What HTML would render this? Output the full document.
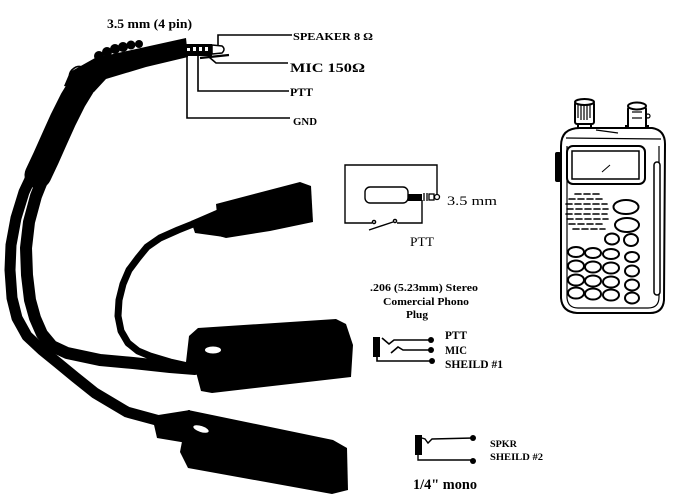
<!DOCTYPE html>
<html>
<head>
<meta charset="utf-8">
<style>
html,body{margin:0;padding:0;background:#fff;}
svg{display:block;}
text{font-family:"Liberation Serif","DejaVu Serif",serif;font-weight:bold;fill:#000;}
</style>
</head>
<body>
<svg width="678" height="500" viewBox="0 0 678 500" xmlns="http://www.w3.org/2000/svg">
<rect width="678" height="500" fill="#fff"/>

<!-- ===== Cables ===== -->
<g fill="none" stroke="#000" stroke-linecap="round" stroke-linejoin="round">
  <!-- upper neck (combined) -->
  <polyline points="84,82 73,100 63,120 54,140 46,158 38,175" stroke-width="27"/>
  <!-- outer cable to lower plug -->
  <polyline points="40,160 32,175 24,192 16,218 11,245 10,270 12,298 17,318 27,336 42,350 58,363 75,377 95,393 127,412 160,421" stroke-width="11"/>
  <!-- inner cable to middle plug -->
  <polyline points="52,160 44,176 36,196 29,222 26,248 27,275 30,300 35,318 42,334 52,346 67,353 100,360 133,363 170,367 195,369" stroke-width="12"/>
  <!-- cable from top jack -->
  <polyline points="198,222 178,230 160,238 147,247 138,258 129,270 123,284 119,300 118,316 121,331 128,343 138,351 150,356 170,362 188,366" stroke-width="7"/>
</g>

<!-- ===== Main 3.5mm plug ===== -->
<path d="M64,86 L70,72 L95,58 L186,38 L188,57 L146,67 L106,79 L94,92 Z" fill="#000"/>
<circle cx="99" cy="56" r="5" fill="#000"/>
<circle cx="107" cy="52" r="5" fill="#000"/>
<circle cx="115" cy="49" r="5" fill="#000"/>
<circle cx="123" cy="47" r="5" fill="#000"/>
<circle cx="131" cy="45" r="4.5" fill="#000"/>
<circle cx="139" cy="44" r="4" fill="#000"/>
<path d="M71,84 Q66,72 76,67 Q82,65 84,70" fill="none" stroke="#000" stroke-width="1.6"/>
<!-- pin -->
<rect x="184" y="44" width="28" height="12" fill="#000"/>
<rect x="187" y="48" width="3" height="3" fill="#fff"/>
<rect x="193" y="47" width="3" height="4" fill="#fff"/>
<rect x="199" y="47" width="3" height="4" fill="#fff"/>
<rect x="205" y="47" width="3" height="4" fill="#fff"/>
<path d="M212,45 L222,46 Q226,49 222,53 L212,54 Z" fill="#fff" stroke="#000" stroke-width="1.5"/>
<line x1="200" y1="58" x2="229" y2="55" stroke="#000" stroke-width="2.2"/>

<!-- pin leader lines -->
<g fill="none" stroke="#000" stroke-width="1.6">
  <polyline points="218,45 218,35 292,35"/>
  <polyline points="209,57 216,63 288,63"/>
  <polyline points="198,56 198,91 289,91"/>
  <polyline points="187,56 187,118 290,118"/>
</g>
<text x="107" y="28" font-size="12.5" textLength="85" lengthAdjust="spacingAndGlyphs">3.5 mm (4 pin)</text>
<text x="293" y="40" font-size="10" textLength="80" lengthAdjust="spacingAndGlyphs">SPEAKER  8 Ω</text>
<text x="290" y="72" font-size="13" textLength="75" lengthAdjust="spacingAndGlyphs">MIC 150Ω</text>
<text x="290" y="96" font-size="12" textLength="23" lengthAdjust="spacingAndGlyphs">PTT</text>
<text x="293" y="125" font-size="10.5" textLength="24" lengthAdjust="spacingAndGlyphs">GND</text>

<!-- ===== Top jack ===== -->
<path d="M191,221 L221,208 L224,237 L195,233 Z" fill="#000"/>
<path d="M216,204 L300,182 L311,186 L313,222 L270,231 L226,238 L219,236 Z" fill="#000"/>

<!-- ===== Middle plug ===== -->
<path d="M189,336 L198,328 L336,319 L346,324 L353,345 L351,377 L212,393 L201,391 L196,372 L186,362 Z" fill="#000"/>
<ellipse cx="213" cy="350" rx="8" ry="3.5" fill="#fff"/>

<!-- ===== Lower plug ===== -->
<path d="M152,416 L190,410 L187,443 L157,438 Z" fill="#000"/>
<path d="M188,410 L333,440 L347,448 L348,490 L332,494 L188,468 L180,452 Z" fill="#000"/>
<ellipse cx="201" cy="429" rx="8" ry="3" fill="#fff" transform="rotate(18 201 429)"/>

<!-- ===== Small PTT circuit ===== -->
<g fill="none" stroke="#000" stroke-width="1.4">
  <polyline points="437,195 437,165 345,165 345,223 372,223"/>
  <circle cx="374" cy="222" r="1.6"/>
  <line x1="369" y1="230" x2="393" y2="222"/>
  <circle cx="395" cy="221" r="1.6"/>
  <polyline points="397,223 422,223 422,200"/>
  <rect x="365" y="187" width="43" height="16" rx="5"/>
</g>
<rect x="408" y="194" width="14" height="7" fill="#000"/>
<g fill="none" stroke="#000" stroke-width="1.3">
  <line x1="424" y1="193" x2="424" y2="201"/>
  <line x1="427" y1="193" x2="427" y2="201"/>
  <rect x="429" y="194" width="5" height="6"/>
  <circle cx="437" cy="197" r="2.5"/>
</g>
<text x="447" y="205" font-size="12.5" style="font-weight:normal" textLength="50" lengthAdjust="spacingAndGlyphs">3.5 mm</text>
<text x="410" y="246" font-size="13" style="font-weight:normal" textLength="24" lengthAdjust="spacingAndGlyphs">PTT</text>

<!-- ===== Stereo phono plug schematic ===== -->
<text x="370" y="291" font-size="10.5" textLength="108" lengthAdjust="spacingAndGlyphs">.206 (5.23mm) Stereo</text>
<text x="383" y="305" font-size="10.5" textLength="86" lengthAdjust="spacingAndGlyphs">Comercial Phono</text>
<text x="406" y="318" font-size="10.5" textLength="22" lengthAdjust="spacingAndGlyphs">Plug</text>
<rect x="373" y="337" width="7" height="20" fill="#000"/>
<g fill="none" stroke="#000" stroke-width="1.6">
  <polyline points="382,338 389,344 394,340 430,340"/>
  <polyline points="391,353 398,347 403,350 430,350"/>
  <polyline points="377,357 377,361 431,361"/>
</g>
<circle cx="431" cy="340" r="3" fill="#000"/>
<circle cx="431" cy="350" r="3" fill="#000"/>
<circle cx="432" cy="361" r="3" fill="#000"/>
<text x="445" y="339" font-size="12" textLength="22" lengthAdjust="spacingAndGlyphs">PTT</text>
<text x="445" y="354" font-size="12" textLength="22" lengthAdjust="spacingAndGlyphs">MIC</text>
<text x="445" y="368" font-size="12" textLength="58" lengthAdjust="spacingAndGlyphs">SHEILD #1</text>

<!-- ===== 1/4" mono schematic ===== -->
<rect x="415" y="435" width="7" height="20" fill="#000"/>
<g fill="none" stroke="#000" stroke-width="1.4">
  <polyline points="422,438 425,439 428,443 432,439 473,438"/>
  <polyline points="418,455 418,460 473,460"/>
</g>
<circle cx="473" cy="438" r="3" fill="#000"/>
<circle cx="473" cy="461" r="3" fill="#000"/>
<text x="490" y="447" font-size="9" textLength="27" lengthAdjust="spacingAndGlyphs">SPKR</text>
<text x="490" y="460" font-size="9" textLength="53" lengthAdjust="spacingAndGlyphs">SHEILD #2</text>
<text x="413" y="489" font-size="14.5" textLength="64" lengthAdjust="spacingAndGlyphs">1/4" mono</text>

<!-- ===== Radio ===== -->
<g fill="#fff" stroke="#000" stroke-width="2">
  <!-- knob -->
  <rect x="578" y="122" width="13" height="10"/>
  <rect x="575" y="102" width="19" height="22" rx="2"/>
  <ellipse cx="584.5" cy="102" rx="9.5" ry="3"/>
  <!-- BNC -->
  <rect x="626" y="126" width="22" height="9"/>
  <rect x="628" y="107" width="18" height="22" rx="2"/>
  <ellipse cx="637" cy="106" rx="9" ry="3.5"/>
  <!-- body -->
  <path d="M561,146 Q561,128 580,128 L652,128 Q665,130 665,144 L664,300 Q663,313 650,313 L577,313 Q562,312 561,298 Z"/>
</g>
<g fill="none" stroke="#000" stroke-width="1.2">
  <line x1="578" y1="105" x2="578" y2="118"/>
  <line x1="581" y1="105" x2="581" y2="120"/>
  <line x1="584" y1="105" x2="584" y2="120"/>
  <line x1="587" y1="105" x2="587" y2="120"/>
  <line x1="590" y1="105" x2="590" y2="118"/>
  <line x1="632" y1="112" x2="642" y2="112"/>
  <line x1="632" y1="118" x2="642" y2="118"/>
  <circle cx="648" cy="116" r="2"/>
  <line x1="566" y1="138" x2="661" y2="139"/>
  <path d="M567,146 L567,298 Q568,308 578,308 L648,308 Q659,308 659,297 L659,146"/>
  <line x1="596" y1="130" x2="618" y2="133"/>
</g>
<!-- side parts -->
<rect x="555" y="152" width="6" height="30" rx="2" fill="#000"/>
<rect x="654" y="162" width="6" height="133" rx="3" fill="#fff" stroke="#000" stroke-width="1.5"/>
<!-- display -->
<rect x="567" y="146" width="78" height="38" rx="6" fill="#fff" stroke="#000" stroke-width="2"/>
<rect x="572" y="151" width="67" height="28" fill="#fff" stroke="#000" stroke-width="1.5"/>
<line x1="602" y1="172" x2="610" y2="165" stroke="#000" stroke-width="1"/>
<!-- speaker grille -->
<g fill="none" stroke="#000" stroke-width="1.6" stroke-linecap="round">
  <path d="M575,194 l6,0 m3,0 l6,0 m3,0 l6,0"/>
  <path d="M569,199 l6,0 m3,0 l6,0 m3,0 l6,0 m3,0 l6,0"/>
  <path d="M566,204 l6,0 m3,0 l6,0 m3,0 l6,0 m3,0 l6,0 m3,0 l5,0"/>
  <path d="M567,209 l6,0 m3,0 l6,0 m3,0 l6,0 m3,0 l6,0 m3,0 l5,0"/>
  <path d="M566,214 l6,0 m3,0 l6,0 m3,0 l6,0 m3,0 l6,0 m3,0 l5,0"/>
  <path d="M567,219 l6,0 m3,0 l6,0 m3,0 l6,0 m3,0 l6,0 m3,0 l5,0"/>
  <path d="M569,224 l6,0 m3,0 l6,0 m3,0 l6,0 m3,0 l6,0"/>
  <path d="M573,229 l6,0 m3,0 l6,0 m3,0 l6,0 m3,0 l5,0"/>
</g>
<!-- buttons -->
<g fill="#fff" stroke="#000" stroke-width="2">
  <ellipse cx="626" cy="207" rx="12.5" ry="7"/>
  <ellipse cx="627" cy="225" rx="12" ry="7"/>
  <ellipse cx="612" cy="239" rx="7" ry="5.5"/>
  <ellipse cx="631" cy="240" rx="7" ry="6"/>
  <ellipse cx="576" cy="252" rx="8" ry="5"/>
  <ellipse cx="593" cy="253" rx="8" ry="5"/>
  <ellipse cx="611" cy="254" rx="8" ry="5"/>
  <ellipse cx="632" cy="257" rx="7" ry="5"/>
  <ellipse cx="576" cy="266" rx="8" ry="5.5"/>
  <ellipse cx="593" cy="267" rx="8" ry="5.5"/>
  <ellipse cx="611" cy="268" rx="8" ry="5.5"/>
  <ellipse cx="632" cy="271" rx="7" ry="5.5"/>
  <ellipse cx="576" cy="280" rx="8" ry="5.5"/>
  <ellipse cx="593" cy="281" rx="8" ry="5.5"/>
  <ellipse cx="611" cy="282" rx="8" ry="5.5"/>
  <ellipse cx="632" cy="285" rx="7" ry="5.5"/>
  <ellipse cx="576" cy="293" rx="8" ry="5.5"/>
  <ellipse cx="593" cy="294" rx="8" ry="5.5"/>
  <ellipse cx="611" cy="295" rx="8" ry="5.5"/>
  <ellipse cx="632" cy="298" rx="7" ry="5.5"/>
</g>
</svg>
</body>
</html>
